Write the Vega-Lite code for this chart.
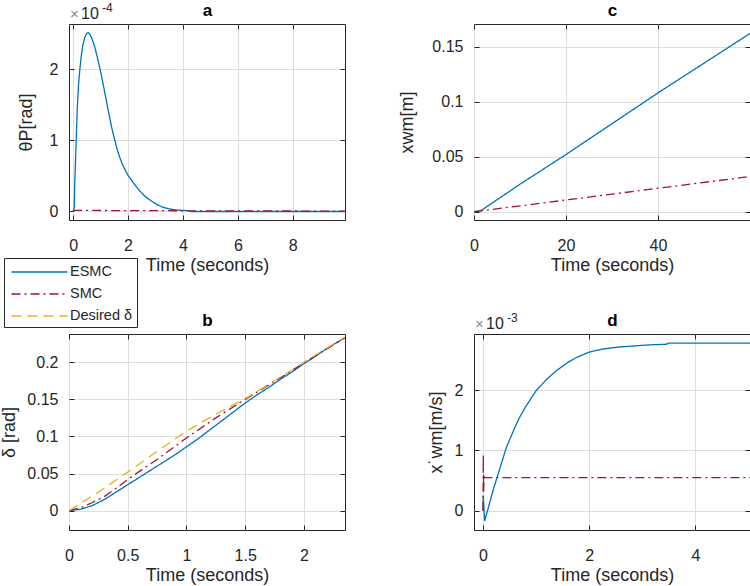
{
  "$schema": "https://vega.github.io/schema/vega-lite/v6.json",
  "background": "white",
  "padding": {"left": 0, "top": 1, "right": 3, "bottom": 0},
  "autosize": {"type": "pad"},
  "bounds": "flush",
  "columns": 2,
  "spacing": {"row": 114, "column": 129},
  "datasets": {
    "pa": [
      {"t": 0, "v": 0, "s": "ESMC"}, {"t": 0.04, "v": 0.05, "s": "ESMC"}, {"t": 0.06, "v": 0.4, "s": "ESMC"},
      {"t": 0.1, "v": 0.85, "s": "ESMC"}, {"t": 0.15, "v": 1.45, "s": "ESMC"}, {"t": 0.2, "v": 1.8, "s": "ESMC"},
      {"t": 0.25, "v": 2.02, "s": "ESMC"}, {"t": 0.3, "v": 2.2, "s": "ESMC"}, {"t": 0.35, "v": 2.33, "s": "ESMC"},
      {"t": 0.42, "v": 2.45, "s": "ESMC"}, {"t": 0.5, "v": 2.51, "s": "ESMC"}, {"t": 0.55, "v": 2.52, "s": "ESMC"},
      {"t": 0.62, "v": 2.49, "s": "ESMC"}, {"t": 0.7, "v": 2.42, "s": "ESMC"}, {"t": 0.8, "v": 2.3, "s": "ESMC"},
      {"t": 0.9, "v": 2.14, "s": "ESMC"}, {"t": 1.0, "v": 1.97, "s": "ESMC"}, {"t": 1.1, "v": 1.78, "s": "ESMC"},
      {"t": 1.2, "v": 1.58, "s": "ESMC"}, {"t": 1.3, "v": 1.38, "s": "ESMC"}, {"t": 1.4, "v": 1.19, "s": "ESMC"},
      {"t": 1.5, "v": 1.03, "s": "ESMC"}, {"t": 1.6, "v": 0.88, "s": "ESMC"}, {"t": 1.7, "v": 0.76, "s": "ESMC"},
      {"t": 1.8, "v": 0.66, "s": "ESMC"}, {"t": 1.9, "v": 0.58, "s": "ESMC"}, {"t": 2.0, "v": 0.51, "s": "ESMC"},
      {"t": 2.2, "v": 0.4, "s": "ESMC"}, {"t": 2.4, "v": 0.3, "s": "ESMC"}, {"t": 2.6, "v": 0.22, "s": "ESMC"},
      {"t": 2.8, "v": 0.16, "s": "ESMC"}, {"t": 3.0, "v": 0.11, "s": "ESMC"}, {"t": 3.2, "v": 0.07, "s": "ESMC"},
      {"t": 3.4, "v": 0.045, "s": "ESMC"}, {"t": 3.6, "v": 0.03, "s": "ESMC"}, {"t": 3.8, "v": 0.02, "s": "ESMC"},
      {"t": 4.0, "v": 0.015, "s": "ESMC"}, {"t": 4.2, "v": 0.012, "s": "ESMC"}, {"t": 4.3, "v": 0.0, "s": "ESMC"},
      {"t": 9.9, "v": 0.0, "s": "ESMC"},
      {"t": 0, "v": 0.015, "s": "SMC"}, {"t": 4, "v": 0.01, "s": "SMC"}, {"t": 9.9, "v": 0.005, "s": "SMC"}
    ],
    "pb": [
      {"t": 0, "v": 0, "s": "ESMC"}, {"t": 0.1, "v": 0.002, "s": "ESMC"}, {"t": 0.2, "v": 0.007, "s": "ESMC"},
      {"t": 0.3, "v": 0.015, "s": "ESMC"}, {"t": 0.4, "v": 0.025, "s": "ESMC"}, {"t": 0.5, "v": 0.035, "s": "ESMC"},
      {"t": 0.6, "v": 0.045, "s": "ESMC"}, {"t": 0.7, "v": 0.055, "s": "ESMC"}, {"t": 0.8, "v": 0.065, "s": "ESMC"},
      {"t": 0.9, "v": 0.075, "s": "ESMC"}, {"t": 1.0, "v": 0.086, "s": "ESMC"}, {"t": 1.1, "v": 0.097, "s": "ESMC"},
      {"t": 1.2, "v": 0.109, "s": "ESMC"}, {"t": 1.3, "v": 0.121, "s": "ESMC"}, {"t": 1.4, "v": 0.133, "s": "ESMC"},
      {"t": 1.5, "v": 0.145, "s": "ESMC"}, {"t": 1.6, "v": 0.156, "s": "ESMC"}, {"t": 1.7, "v": 0.166, "s": "ESMC"},
      {"t": 1.8, "v": 0.177, "s": "ESMC"}, {"t": 1.9, "v": 0.187, "s": "ESMC"}, {"t": 2.0, "v": 0.198, "s": "ESMC"},
      {"t": 2.1, "v": 0.208, "s": "ESMC"}, {"t": 2.2, "v": 0.219, "s": "ESMC"}, {"t": 2.35, "v": 0.233, "s": "ESMC"},
      {"t": 0, "v": 0, "s": "SMC"}, {"t": 0.1, "v": 0.004, "s": "SMC"}, {"t": 0.2, "v": 0.011, "s": "SMC"},
      {"t": 0.3, "v": 0.019, "s": "SMC"}, {"t": 0.4, "v": 0.03, "s": "SMC"}, {"t": 0.5, "v": 0.042, "s": "SMC"},
      {"t": 0.6, "v": 0.053, "s": "SMC"}, {"t": 0.75, "v": 0.069, "s": "SMC"}, {"t": 1.0, "v": 0.098, "s": "SMC"},
      {"t": 1.25, "v": 0.125, "s": "SMC"}, {"t": 1.5, "v": 0.15, "s": "SMC"}, {"t": 1.75, "v": 0.174, "s": "SMC"},
      {"t": 2.0, "v": 0.199, "s": "SMC"}, {"t": 2.35, "v": 0.233, "s": "SMC"},
      {"t": 0, "v": 0, "s": "Desired δ"}, {"t": 0.25, "v": 0.025, "s": "Desired δ"}, {"t": 0.5, "v": 0.052, "s": "Desired δ"},
      {"t": 0.75, "v": 0.08, "s": "Desired δ"}, {"t": 1.0, "v": 0.107, "s": "Desired δ"}, {"t": 1.25, "v": 0.13, "s": "Desired δ"},
      {"t": 1.5, "v": 0.151, "s": "Desired δ"}, {"t": 1.75, "v": 0.175, "s": "Desired δ"}, {"t": 2.0, "v": 0.2, "s": "Desired δ"},
      {"t": 2.35, "v": 0.234, "s": "Desired δ"}
    ],
    "pc": [
      {"t": 0, "v": 0, "s": "ESMC"}, {"t": 1.5, "v": 0.001, "s": "ESMC"}, {"t": 10, "v": 0.025, "s": "ESMC"},
      {"t": 20, "v": 0.052, "s": "ESMC"}, {"t": 30, "v": 0.08, "s": "ESMC"}, {"t": 40, "v": 0.108, "s": "ESMC"},
      {"t": 50, "v": 0.135, "s": "ESMC"}, {"t": 60, "v": 0.162, "s": "ESMC"},
      {"t": 0, "v": 0, "s": "SMC"}, {"t": 60, "v": 0.032, "s": "SMC"}
    ],
    "pd": [
      {"t": 0, "v": 0, "s": "ESMC"}, {"t": 0.005, "v": 0.25, "s": "ESMC"}, {"t": 0.03, "v": -0.17, "s": "ESMC"},
      {"t": 0.1, "v": 0.05, "s": "ESMC"}, {"t": 0.2, "v": 0.37, "s": "ESMC"}, {"t": 0.3, "v": 0.65, "s": "ESMC"},
      {"t": 0.44, "v": 1.05, "s": "ESMC"}, {"t": 0.6, "v": 1.38, "s": "ESMC"}, {"t": 0.69, "v": 1.55, "s": "ESMC"},
      {"t": 0.8, "v": 1.72, "s": "ESMC"}, {"t": 1.0, "v": 1.99, "s": "ESMC"}, {"t": 1.2, "v": 2.18, "s": "ESMC"},
      {"t": 1.38, "v": 2.32, "s": "ESMC"}, {"t": 1.6, "v": 2.46, "s": "ESMC"}, {"t": 1.76, "v": 2.54, "s": "ESMC"},
      {"t": 2.0, "v": 2.63, "s": "ESMC"}, {"t": 2.25, "v": 2.68, "s": "ESMC"}, {"t": 2.52, "v": 2.71, "s": "ESMC"},
      {"t": 2.8, "v": 2.73, "s": "ESMC"}, {"t": 3.15, "v": 2.75, "s": "ESMC"}, {"t": 3.45, "v": 2.76, "s": "ESMC"},
      {"t": 3.5, "v": 2.78, "s": "ESMC"}, {"t": 5.03, "v": 2.78, "s": "ESMC"},
      {"t": 0, "v": 0, "s": "SMC"}, {"t": 0.005, "v": 0.93, "s": "SMC"}, {"t": 0.012, "v": 0.3, "s": "SMC"},
      {"t": 0.02, "v": 0.6, "s": "SMC"}, {"t": 0.03, "v": 0.55, "s": "SMC"}, {"t": 5.03, "v": 0.55, "s": "SMC"}
    ]
  },
  "concat": [
    {
      "width": 276, "height": 196,
      "data": {"name": "pa"},
      "layer": [
        {
          "mark": {"type": "line", "strokeWidth": 1.3, "clip": true},
          "encoding": {
            "x": {"field": "t", "type": "quantitative", "scale": {"domain": [-0.15, 9.9], "nice": false, "zero": false}, "axis": {"title": "Time (seconds)", "values": [0, 2, 4, 6, 8]}},
            "y": {"field": "v", "type": "quantitative", "scale": {"domain": [-0.12, 2.64], "nice": false, "zero": false}, "axis": {"title": "θP[rad]", "titlePadding": 14, "values": [0, 1, 2]}},
            "color": {"field": "s", "type": "nominal", "scale": {"domain": ["ESMC", "SMC", "Desired δ"], "range": ["#0072BD", "#A2142F", "#EDB120"]}, "legend": null},
            "strokeDash": {"field": "s", "type": "nominal", "scale": {"domain": ["ESMC", "SMC", "Desired δ"], "range": [[1, 0], [9, 4, 2, 4], [10, 6]]}, "legend": null}
          }
        },
        {
          "mark": {"type": "line", "opacity": 0},
          "encoding": {
            "x": {"field": "t", "type": "quantitative", "axis": {"orient": "top", "labels": false, "title": "a", "grid": false, "values": [0, 2, 4, 6, 8]}},
            "y": {"field": "v", "type": "quantitative", "axis": {"orient": "right", "labels": false, "title": null, "grid": false, "values": [0, 1, 2]}},
            "detail": {"field": "s"}
          }
        },
        {
          "data": {"values": [{"txt": "×"}]},
          "mark": {"type": "text", "align": "left", "baseline": "alphabetic", "dx": 1, "dy": -5, "fontSize": 15, "color": "#8a8a8a"},
          "encoding": {"x": {"datum": -0.15, "type": "quantitative", "axis": null}, "y": {"datum": 2.64, "type": "quantitative", "axis": null}, "text": {"field": "txt"}}
        },
        {
          "data": {"values": [{"txt": "10"}]},
          "mark": {"type": "text", "align": "left", "baseline": "alphabetic", "dx": 12, "dy": -5, "fontSize": 16, "color": "#262626"},
          "encoding": {"x": {"datum": -0.15, "type": "quantitative", "axis": null}, "y": {"datum": 2.64, "type": "quantitative", "axis": null}, "text": {"field": "txt"}}
        },
        {
          "data": {"values": [{"txt": "-4"}]},
          "mark": {"type": "text", "align": "left", "baseline": "alphabetic", "dx": 33, "dy": -12, "fontSize": 12, "color": "#262626"},
          "encoding": {"x": {"datum": -0.15, "type": "quantitative", "axis": null}, "y": {"datum": 2.64, "type": "quantitative", "axis": null}, "text": {"field": "txt"}}
        }
      ],
      "resolve": {"axis": {"x": "independent", "y": "independent"}}
    },
    {
      "width": 276, "height": 196,
      "data": {"name": "pc"},
      "layer": [
        {
          "mark": {"type": "line", "strokeWidth": 1.3, "clip": true},
          "encoding": {
            "x": {"field": "t", "type": "quantitative", "scale": {"domain": [0, 60], "nice": false}, "axis": {"title": "Time (seconds)", "values": [0, 20, 40]}},
            "y": {"field": "v", "type": "quantitative", "scale": {"domain": [-0.0075, 0.1706], "nice": false, "zero": false}, "axis": {"title": "xwm[m]", "titlePadding": 15, "values": [0, 0.05, 0.1, 0.15]}},
            "color": {"field": "s", "type": "nominal", "scale": {"domain": ["ESMC", "SMC", "Desired δ"], "range": ["#0072BD", "#A2142F", "#EDB120"]}, "legend": null},
            "strokeDash": {"field": "s", "type": "nominal", "scale": {"domain": ["ESMC", "SMC", "Desired δ"], "range": [[1, 0], [9, 4, 2, 4], [10, 6]]}, "legend": null}
          }
        },
        {
          "mark": {"type": "line", "opacity": 0},
          "encoding": {
            "x": {"field": "t", "type": "quantitative", "axis": {"orient": "top", "labels": false, "title": "c", "grid": false, "values": [0, 20, 40]}},
            "y": {"field": "v", "type": "quantitative", "axis": {"orient": "right", "labels": false, "title": null, "grid": false, "values": [0, 0.05, 0.1, 0.15]}},
            "detail": {"field": "s"}
          }
        }
      ],
      "resolve": {"axis": {"x": "independent", "y": "independent"}}
    },
    {
      "width": 276, "height": 196,
      "data": {"name": "pb"},
      "layer": [
        {
          "mark": {"type": "line", "strokeWidth": 1.3, "clip": true},
          "encoding": {
            "x": {"field": "t", "type": "quantitative", "scale": {"domain": [0, 2.35], "nice": false}, "axis": {"title": "Time (seconds)", "values": [0, 0.5, 1, 1.5, 2]}},
            "y": {"field": "v", "type": "quantitative", "scale": {"domain": [-0.026, 0.238], "nice": false, "zero": false}, "axis": {"title": "δ [rad]", "titlePadding": 8, "values": [0, 0.05, 0.1, 0.15, 0.2]}},
            "color": {"field": "s", "type": "nominal", "scale": {"domain": ["ESMC", "SMC", "Desired δ"], "range": ["#0072BD", "#A2142F", "#EDB120"]}, "legend": {"orient": "none", "legendX": -65, "legendY": -76}},
            "strokeDash": {"field": "s", "type": "nominal", "scale": {"domain": ["ESMC", "SMC", "Desired δ"], "range": [[1, 0], [9, 4, 2, 4], [10, 6]]}, "legend": {"orient": "none", "legendX": -65, "legendY": -76}}
          }
        },
        {
          "mark": {"type": "line", "opacity": 0},
          "encoding": {
            "x": {"field": "t", "type": "quantitative", "axis": {"orient": "top", "labels": false, "title": "b", "grid": false, "values": [0, 0.5, 1, 1.5, 2]}},
            "y": {"field": "v", "type": "quantitative", "axis": {"orient": "right", "labels": false, "title": null, "grid": false, "values": [0, 0.05, 0.1, 0.15, 0.2]}},
            "detail": {"field": "s"}
          }
        }
      ],
      "resolve": {"axis": {"x": "independent", "y": "independent"}}
    },
    {
      "width": 276, "height": 196,
      "data": {"name": "pd"},
      "layer": [
        {
          "mark": {"type": "line", "strokeWidth": 1.3, "clip": true},
          "encoding": {
            "x": {"field": "t", "type": "quantitative", "scale": {"domain": [-0.17, 5.03], "nice": false, "zero": false}, "axis": {"title": "Time (seconds)", "values": [0, 2, 4]}},
            "y": {"field": "v", "type": "quantitative", "scale": {"domain": [-0.32, 2.93], "nice": false, "zero": false}, "axis": {"title": "x˙wm[m/s]", "titlePadding": 9, "values": [0, 1, 2]}},
            "color": {"field": "s", "type": "nominal", "scale": {"domain": ["ESMC", "SMC", "Desired δ"], "range": ["#0072BD", "#A2142F", "#EDB120"]}, "legend": null},
            "strokeDash": {"field": "s", "type": "nominal", "scale": {"domain": ["ESMC", "SMC", "Desired δ"], "range": [[1, 0], [9, 4, 2, 4], [10, 6]]}, "legend": null}
          }
        },
        {
          "mark": {"type": "line", "opacity": 0},
          "encoding": {
            "x": {"field": "t", "type": "quantitative", "axis": {"orient": "top", "labels": false, "title": "d", "grid": false, "values": [0, 2, 4]}},
            "y": {"field": "v", "type": "quantitative", "axis": {"orient": "right", "labels": false, "title": null, "grid": false, "values": [0, 1, 2]}},
            "detail": {"field": "s"}
          }
        },
        {
          "data": {"values": [{"txt": "×"}]},
          "mark": {"type": "text", "align": "left", "baseline": "alphabetic", "dx": 1, "dy": -5, "fontSize": 15, "color": "#8a8a8a"},
          "encoding": {"x": {"datum": -0.17, "type": "quantitative", "axis": null}, "y": {"datum": 2.93, "type": "quantitative", "axis": null}, "text": {"field": "txt"}}
        },
        {
          "data": {"values": [{"txt": "10"}]},
          "mark": {"type": "text", "align": "left", "baseline": "alphabetic", "dx": 12, "dy": -5, "fontSize": 16, "color": "#262626"},
          "encoding": {"x": {"datum": -0.17, "type": "quantitative", "axis": null}, "y": {"datum": 2.93, "type": "quantitative", "axis": null}, "text": {"field": "txt"}}
        },
        {
          "data": {"values": [{"txt": "-3"}]},
          "mark": {"type": "text", "align": "left", "baseline": "alphabetic", "dx": 33, "dy": -12, "fontSize": 12, "color": "#262626"},
          "encoding": {"x": {"datum": -0.17, "type": "quantitative", "axis": null}, "y": {"datum": 2.93, "type": "quantitative", "axis": null}, "text": {"field": "txt"}}
        }
      ],
      "resolve": {"axis": {"x": "independent", "y": "independent"}}
    }
  ],
  "resolve": {"scale": {"color": "independent", "strokeDash": "independent"}},
  "config": {
    "font": "Liberation Sans",
    "view": {"stroke": "#262626", "strokeWidth": 1},
    "axis": {
      "domain": false,
      "grid": true,
      "gridColor": "#dedede",
      "gridWidth": 1,
      "tickColor": "#262626",
      "tickSize": -5,
      "labelColor": "#262626",
      "labelFontSize": 16,
      "labelFlush": false,
      "labelOverlap": false,
      "format": "~f",
      "titleFontSize": 18,
      "titleFontWeight": "normal",
      "titleColor": "#262626"
    },
    "axisBottom": {"labelPadding": 22, "titlePadding": 3},
    "axisLeft": {"labelPadding": 16},
    "axisTop": {"titleFontWeight": "bold", "titleFontSize": 17, "titleColor": "#000000", "titlePadding": 4},
    "legend": {
      "title": null,
      "strokeColor": "#262626",
      "fillColor": "#ffffff",
      "padding": 4,
      "cornerRadius": 0,
      "symbolType": "M-0.7,0H5.3",
      "symbolSize": 348,
      "symbolStrokeWidth": 1.3,
      "labelFontSize": 14.5,
      "labelColor": "#262626",
      "labelOffset": 42,
      "rowPadding": 5
    }
  }
}
